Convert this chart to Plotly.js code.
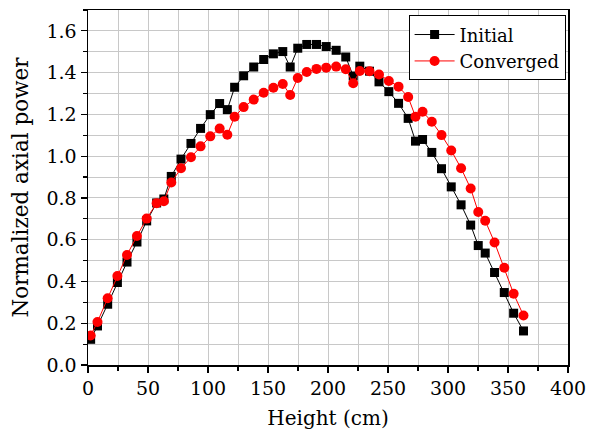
<!DOCTYPE html>
<html>
<head>
<meta charset="utf-8">
<script src="https://cdn.plot.ly/plotly-3.0.1.min.js"></script>
<style>html,body{margin:0;padding:0;background:#fff;}#chart{width:589px;height:430px;}</style>
</head>
<body>
<div id="chart"></div>
<script>
const heights = [2.2, 7.9, 16.4, 24.5, 32.5, 40.8, 48.9, 57.2, 63.2, 69.4, 77.5, 85.8, 93.8, 101.9, 109.7, 116.1, 122.2, 129.7, 138.1, 146.4, 154.5, 162.3, 168.5, 174.8, 182.3, 190.4, 198.5, 206.8, 214.8, 221.0, 226.5, 234.6, 242.5, 250.7, 258.8, 266.8, 272.9, 278.8, 286.5, 294.6, 302.7, 310.9, 318.9, 325.2, 331.0, 338.8, 346.9, 354.7, 362.9];
const initialPower = [0.123, 0.187, 0.291, 0.395, 0.493, 0.589, 0.690, 0.776, 0.795, 0.903, 0.986, 1.061, 1.133, 1.199, 1.252, 1.223, 1.330, 1.385, 1.427, 1.463, 1.490, 1.501, 1.427, 1.517, 1.535, 1.535, 1.525, 1.507, 1.475, 1.384, 1.431, 1.407, 1.356, 1.309, 1.253, 1.181, 1.072, 1.080, 1.018, 0.940, 0.853, 0.767, 0.670, 0.572, 0.536, 0.443, 0.347, 0.248, 0.163];
const convergedPower = [0.141, 0.206, 0.320, 0.426, 0.527, 0.618, 0.701, 0.775, 0.784, 0.874, 0.942, 0.995, 1.047, 1.095, 1.132, 1.103, 1.189, 1.235, 1.271, 1.304, 1.328, 1.346, 1.293, 1.374, 1.403, 1.418, 1.424, 1.429, 1.416, 1.349, 1.408, 1.407, 1.391, 1.360, 1.333, 1.283, 1.189, 1.213, 1.165, 1.101, 1.027, 0.942, 0.845, 0.733, 0.691, 0.587, 0.466, 0.341, 0.237];
const seriesNames = ['Initial', 'Converged'];

const font = 'DejaVu Serif';
const traces = [
  {x: heights, y: initialPower, name: seriesNames[0], type: 'scatter', mode: 'lines+markers',
   line: {color: '#000000', width: 1}, marker: {symbol: 'square', size: 9, color: '#000000'}},
  {x: heights, y: convergedPower, name: seriesNames[1], type: 'scatter', mode: 'lines+markers',
   line: {color: '#ff0000', width: 1}, marker: {symbol: 'circle', size: 10, color: '#ff0000'}}
];
const axisCommon = {
  showline: true, linecolor: '#000', linewidth: 1.5, mirror: true,
  ticks: 'outside', ticklen: 6, tickwidth: 1.2, tickcolor: '#000',
  showgrid: true, gridcolor: '#c8c8c8', gridwidth: 1, zeroline: false,
  tickfont: {family: font, size: 19, color: '#000'}
};
const layout = {
  width: 589, height: 430,
  margin: {l: 88, r: 21, t: 10, b: 65},
  paper_bgcolor: '#fff', plot_bgcolor: '#fff',
  font: {family: font, size: 18, color: '#000'},
  showlegend: true,
  legend: {x: 0.995, y: 0.985, xanchor: 'right', yanchor: 'top', bgcolor: '#fff',
           bordercolor: '#000', borderwidth: 1, font: {family: font, size: 18, color: '#000'},
           tracegroupgap: 0, itemwidth: 40},
  xaxis: Object.assign({}, axisCommon, {
    range: [0, 400], dtick: 50, tick0: 0,
    minor: {dtick: 25, ticks: 'outside', ticklen: 4, tickcolor: '#000', showgrid: true, gridcolor: '#c8c8c8'},
    title: {text: 'Height (cm)', font: {family: font, size: 20, color: '#000'}, standoff: 13}
  }),
  yaxis: Object.assign({}, axisCommon, {
    range: [0, 1.7], dtick: 0.2, tick0: 0, tickformat: '.1f',
    minor: {dtick: 0.1, ticks: 'outside', ticklen: 4, tickcolor: '#000', showgrid: true, gridcolor: '#c8c8c8'},
    title: {text: 'Normalized axial power', font: {family: font, size: 21.5, color: '#000'}, standoff: 12}
  })
};
Plotly.newPlot('chart', traces, layout, {displayModeBar: false, staticPlot: true});
</script>
</body>
</html>
